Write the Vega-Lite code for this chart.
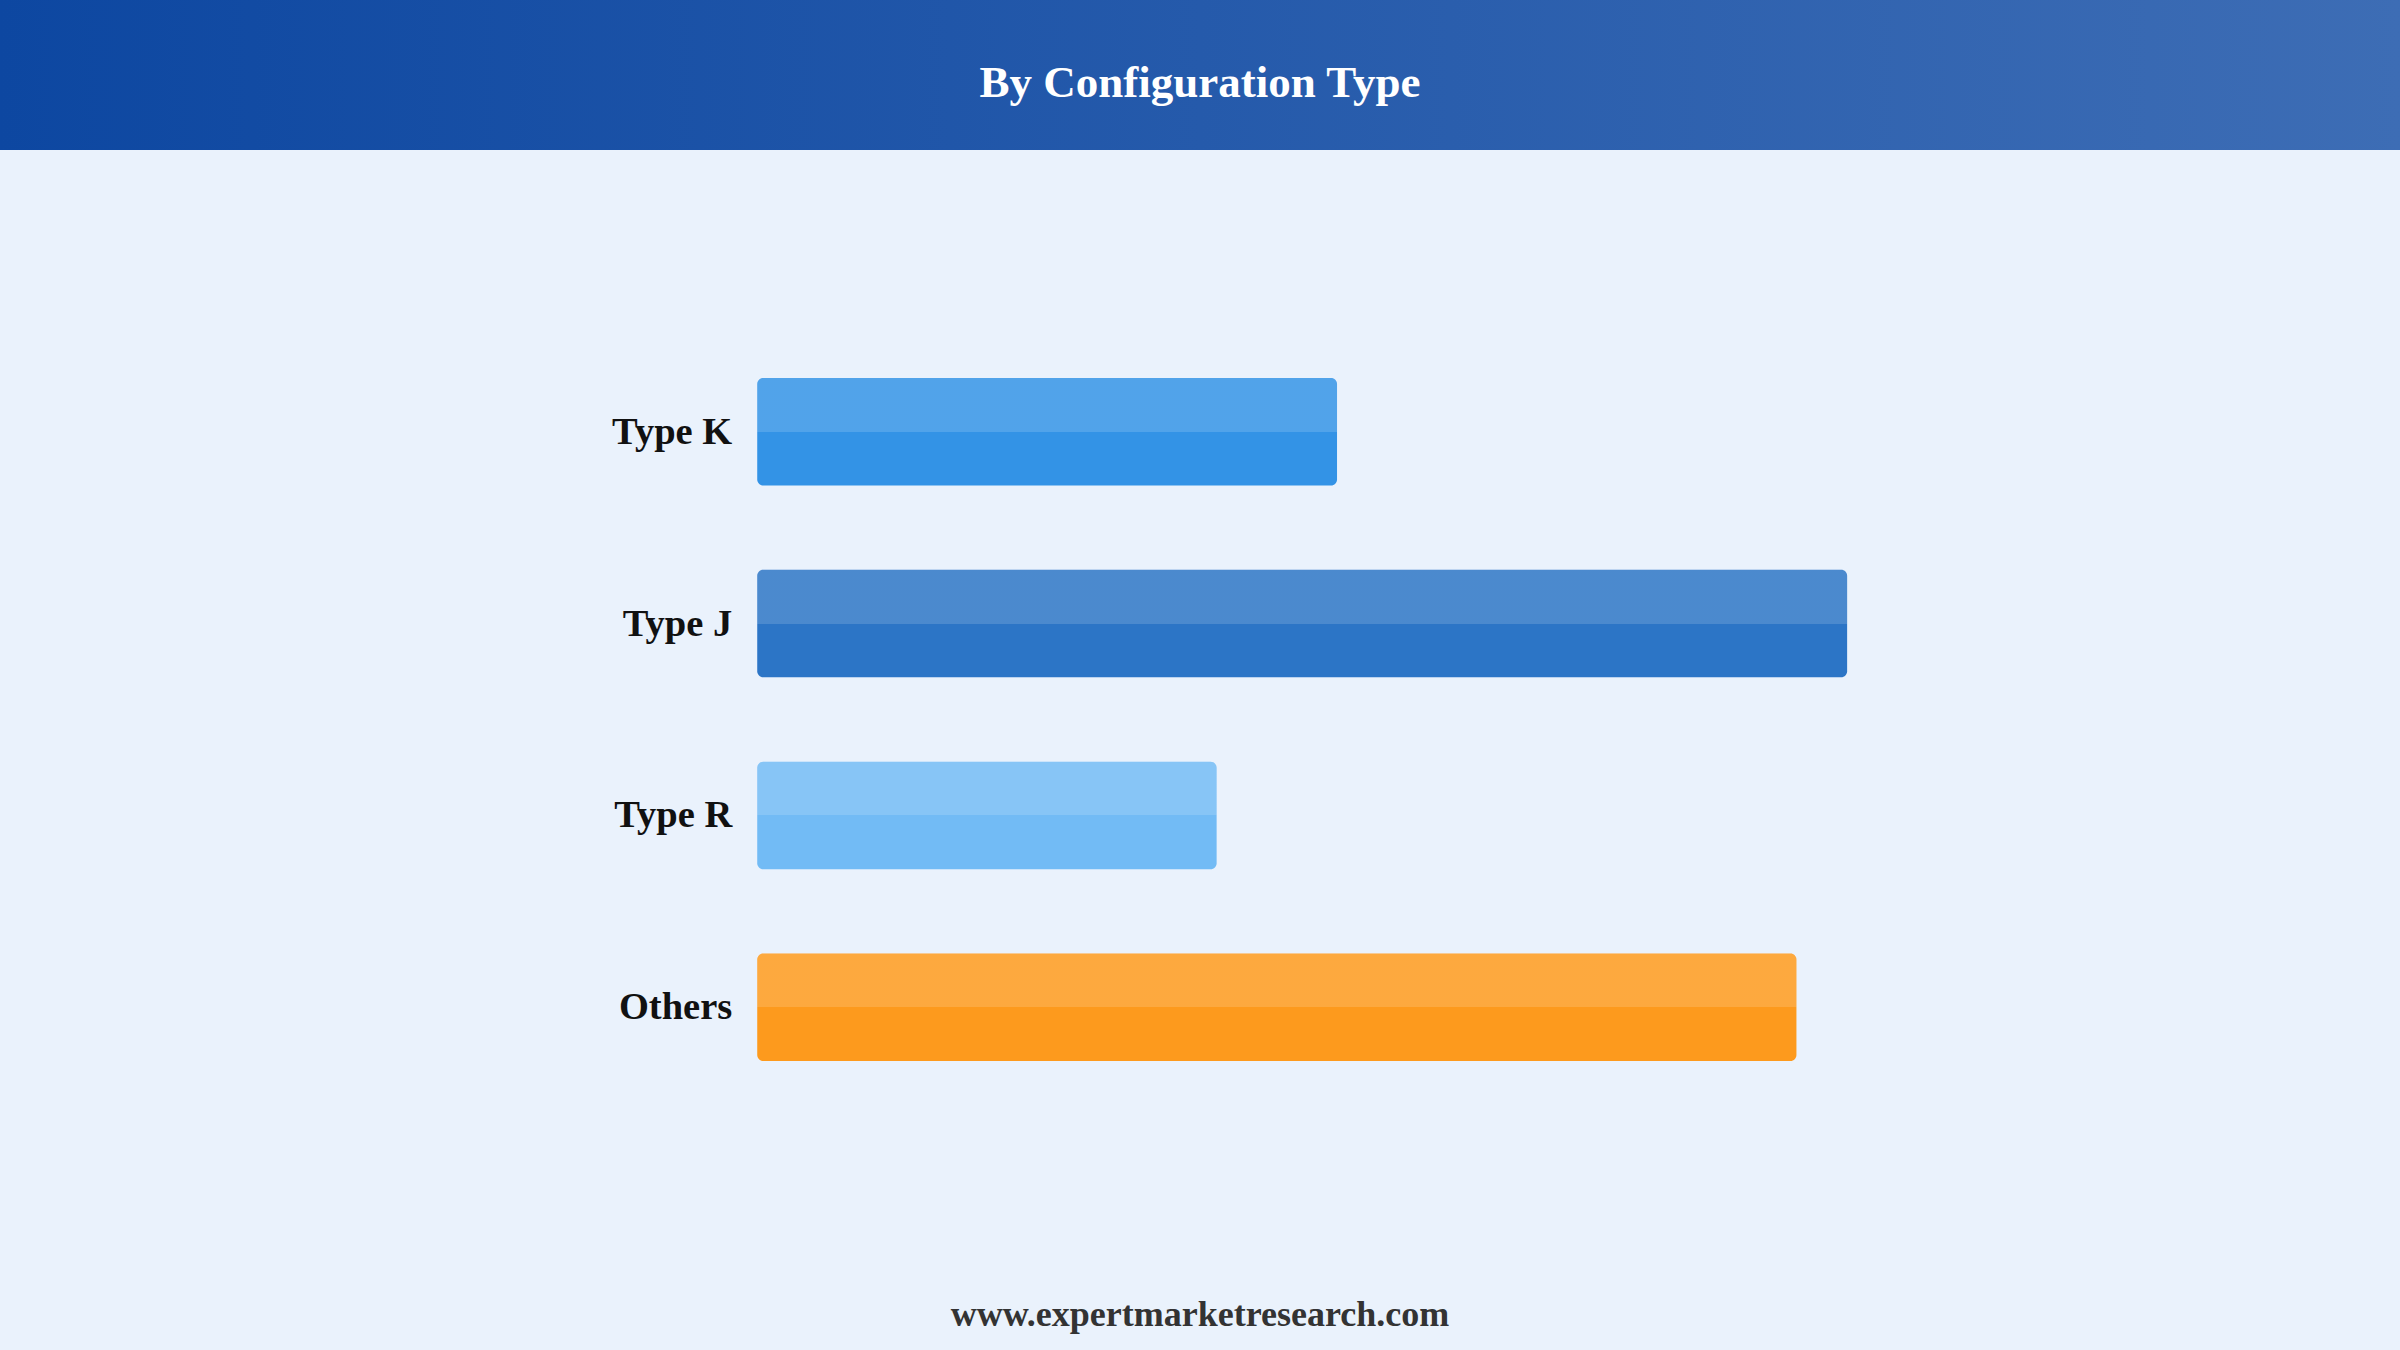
{
  "$schema": "https://vega.github.io/schema/vega-lite/v6.json",
  "width": 2400,
  "height": 1350,
  "autosize": {"type": "fit", "contains": "padding"},
  "padding": 0,
  "background": "#EAF2FC",
  "config": {"view": {"stroke": null}},
  "datasets": {
    "bars": [
      {"type": "Type K", "share": 18.3},
      {"type": "Type J", "share": 34.4},
      {"type": "Type R", "share": 14.5},
      {"type": "Others", "share": 32.8}
    ],
    "frame": [{"part": "header", "x0": 0, "x1": 1, "y0": 0, "y1": 1}],
    "texts": [
      {"label": "By Configuration Type", "x": 0.5, "y": 0.555, "kind": "title"},
      {"label": "www.expertmarketresearch.com", "x": 0.5, "y": 8.767, "kind": "footer"}
    ]
  },
  "layer": [
    {
      "layer": [
        {
          "data": {"name": "frame"},
          "mark": {
            "type": "rect",
            "fill": {
              "gradient": "linear", "x1": 0, "x2": 1, "y1": 0, "y2": 0,
              "stops": [
                {"offset": 0, "color": "#0D47A1"},
                {"offset": 1, "color": "#3D6DB5"}
              ]
            }
          },
          "encoding": {
            "x": {"field": "x0", "type": "quantitative", "scale": {"domain": [0, 1], "nice": false, "zero": false}, "axis": null},
            "x2": {"field": "x1"},
            "y": {"field": "y0", "type": "quantitative", "scale": {"domain": [0, 9], "reverse": true, "nice": false, "zero": false}, "axis": null},
            "y2": {"field": "y1"}
          }
        },
        {
          "data": {"name": "texts"},
          "transform": [{"filter": "datum.kind === 'title'"}],
          "mark": {"type": "text", "font": "Liberation Serif", "fontWeight": "bold", "fontSize": 45, "color": "#FFFFFF", "align": "center", "baseline": "middle"},
          "encoding": {
            "x": {"field": "x", "type": "quantitative", "scale": {"domain": [0, 1], "nice": false, "zero": false}, "axis": null},
            "y": {"field": "y", "type": "quantitative", "scale": {"domain": [0, 9], "reverse": true, "nice": false, "zero": false}, "axis": null},
            "text": {"field": "label"}
          }
        },
        {
          "data": {"name": "texts"},
          "transform": [{"filter": "datum.kind === 'footer'"}],
          "mark": {"type": "text", "font": "Liberation Serif", "fontWeight": "bold", "fontSize": 36, "color": "#333333", "align": "center", "baseline": "middle"},
          "encoding": {
            "x": {"field": "x", "type": "quantitative", "scale": {"domain": [0, 1], "nice": false, "zero": false}, "axis": null},
            "y": {"field": "y", "type": "quantitative", "scale": {"domain": [0, 9], "reverse": true, "nice": false, "zero": false}, "axis": null},
            "text": {"field": "label"}
          }
        }
      ]
    },
    {
      "data": {"name": "bars"},
      "encoding": {
        "y": {
          "field": "type", "type": "nominal",
          "sort": ["Type K", "Type J", "Type R", "Others"],
          "scale": {"paddingInner": 0.44, "paddingOuter": 0, "range": [378, 1061]},
          "axis": null
        }
      },
      "layer": [
        {
          "mark": {"type": "bar", "cornerRadius": 6},
          "encoding": {
            "x": {"field": "share", "type": "quantitative", "scale": {"domain": [-23.9, 51.85], "nice": false, "zero": false}, "axis": null},
            "x2": {"datum": 0},
            "color": {
              "field": "type", "type": "nominal",
              "scale": {"domain": ["Type K", "Type J", "Type R", "Others"], "range": ["#3393E6", "#2C75C6", "#72BBF5", "#FD9A1D"]},
              "legend": null
            }
          }
        },
        {
          "mark": {
            "type": "bar", "cornerRadius": 6,
            "fill": {
              "gradient": "linear", "x1": 0, "x2": 0, "y1": 0, "y2": 1,
              "stops": [
                {"offset": 0, "color": "rgba(255,255,255,0.15)"},
                {"offset": 0.5, "color": "rgba(255,255,255,0.15)"},
                {"offset": 0.5, "color": "rgba(255,255,255,0)"},
                {"offset": 1, "color": "rgba(255,255,255,0)"}
              ]
            }
          },
          "encoding": {
            "x": {"field": "share", "type": "quantitative"},
            "x2": {"datum": 0}
          }
        },
        {
          "mark": {"type": "text", "font": "Liberation Serif", "fontWeight": "bold", "fontSize": 38.5, "color": "#111111", "align": "right", "baseline": "middle", "dx": -25},
          "encoding": {
            "x": {"datum": 0},
            "text": {"field": "type"}
          }
        }
      ]
    }
  ],
  "resolve": {"scale": {"x": "independent", "y": "independent"}}
}
